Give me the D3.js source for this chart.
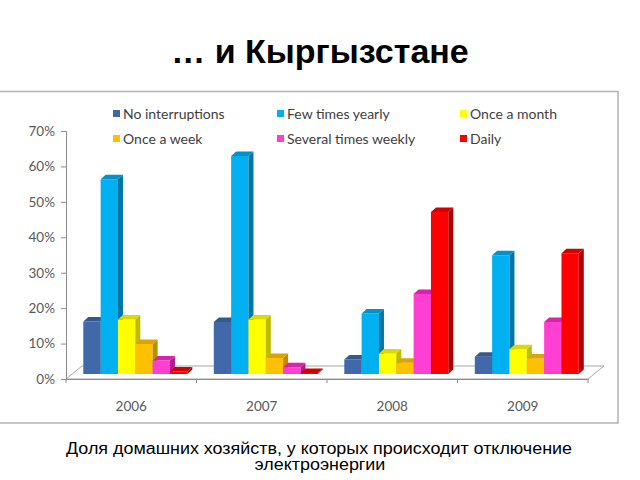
<!DOCTYPE html>
<html>
<head>
<meta charset="utf-8">
<script src="https://cdn.jsdelivr.net/npm/d3@7"></script>
<style>
  html, body { margin: 0; padding: 0; background: #fff; }
  svg { display: block; }
</style>
</head>
<body>
<svg id="chart" width="640" height="480"></svg>
<script>
// ---- data ----
const years = ["2006", "2007", "2008", "2009"];
const seriesNames = ["No interruptions", "Few times yearly", "Once a month",
                     "Once a week", "Several times weekly", "Daily"];
const noInterruptions   = [0.148, 0.147, 0.041, 0.049];
const fewTimesYearly    = [0.550, 0.615, 0.171, 0.335];
const onceAMonth        = [0.154, 0.154, 0.058, 0.070];
const onceAWeek         = [0.085, 0.045, 0.032, 0.044];
const severalTimesWeekly= [0.038, 0.019, 0.226, 0.147];
const daily             = [0.007, 0.003, 0.457, 0.341];
const yTicks = [0, 0.1, 0.2, 0.3, 0.4, 0.5, 0.6, 0.7];

const seriesValues = [noInterruptions, fewTimesYearly, onceAMonth,
                      onceAWeek, severalTimesWeekly, daily];
const colors = [
  {front: "#4169a9", top: "#35598f", side: "#2a4878"},
  {front: "#00b0f0", top: "#0092c9", side: "#0076a6"},
  {front: "#ffff00", top: "#dada00", side: "#bcbc00"},
  {front: "#ffc000", top: "#dba400", side: "#be8c00"},
  {front: "#ff3fd2", top: "#d922ad", side: "#b51a90"},
  {front: "#ff0000", top: "#d40000", side: "#b00000"}
];

const svg = d3.select("#chart");

// ---- title ----
svg.append("text")
  .attr("x", 320).attr("y", 63)
  .attr("text-anchor", "middle")
  .attr("font-family", "'Liberation Sans', Arial, sans-serif")
  .attr("font-weight", "bold")
  .attr("font-size", 34)
  .attr("fill", "#000")
  .text("… и Кыргызстане");

// ---- frame ----
const frame = svg.append("g").attr("fill", "none").attr("stroke", "#b3b3b3").attr("stroke-width", 1.5);
frame.append("path").attr("d", "M0,91.5 H618 V423 H0");

// ---- scales ----
const y = d3.scaleLinear().domain([0, 0.7]).range([379, 131]);
const x0 = d3.scaleBand().domain(years).range([66, 588]);
const x1 = d3.scaleBand().domain(seriesNames).range([0, 104]);
const floorDx = 16, floorDy = -13;   // floor depth
const barOff = {x: 17.3, y: -5};     // bar front position inside floor
const bd = {x: 5, y: -4.5};          // bar depth

const plot = svg.append("g");

// floor
const fx0 = x0.range()[0], fx1 = x0.range()[1], fy = y(0);
plot.append("path")
  .attr("d", `M${fx0},${fy} L${fx1},${fy} L${fx1 + floorDx},${fy + floorDy} L${fx0 + floorDx},${fy + floorDy} Z`)
  .attr("fill", "#fff").attr("stroke", "#a6a6a6").attr("stroke-width", 1);

// y axis
const yAxis = d3.axisLeft(y).tickValues(yTicks).tickFormat(d3.format(".0%")).tickSize(5).tickPadding(6);
const gy = plot.append("g").attr("transform", `translate(${fx0},0)`).call(yAxis);
gy.select(".domain").attr("stroke", "#8c8c8c");
gy.selectAll(".tick line").attr("stroke", "#8c8c8c");
gy.selectAll(".tick text")
  .attr("font-family", "Lato, 'Open Sans', sans-serif")
  .attr("font-size", 13.5).attr("fill", "#595959");

// x axis
const xAxis = d3.axisBottom(x0).tickSize(0).tickPadding(22);
const gx = plot.append("g").attr("transform", `translate(0,${fy})`).call(xAxis);
gx.select(".domain").attr("stroke", "#8c8c8c");
gx.selectAll(".tick text")
  .attr("font-family", "Lato, 'Open Sans', sans-serif")
  .attr("font-size", 13.5).attr("fill", "#595959");
// category separator ticks
const sepTicks = years.map(yr => x0(yr)).concat([fx1]);
gx.selectAll(".sep").data(sepTicks).enter().append("line")
  .attr("x1", d => d).attr("x2", d => d).attr("y1", 0).attr("y2", 4)
  .attr("stroke", "#8c8c8c");

// bars
const barsData = [];
years.forEach((yr, yi) => {
  seriesNames.forEach((s, si) => {
    barsData.push({year: yr, series: s, si: si, value: seriesValues[si][yi]});
  });
});
const w = x1.bandwidth();
const bars = plot.selectAll(".bar").data(barsData).enter().append("g").attr("class", "bar");
bars.each(function(d) {
  const g = d3.select(this);
  const xl = x0(d.year) + barOff.x + x1(d.series);
  const xr = xl + w;
  const yb = y(0) + barOff.y;
  const yt = y(d.value) + barOff.y;
  const c = colors[d.si];
  g.append("path").attr("d", `M${xl},${yb} L${xr},${yb} L${xr},${yt} L${xl},${yt} Z`).attr("fill", c.front);
  g.append("path").attr("d", `M${xr},${yb} L${xr + bd.x},${yb + bd.y} L${xr + bd.x},${yt + bd.y} L${xr},${yt} Z`).attr("fill", c.side);
  g.append("path").attr("d", `M${xl},${yt} L${xr},${yt} L${xr + bd.x},${yt + bd.y} L${xl + bd.x},${yt + bd.y} Z`).attr("fill", c.top);
});

// legend
const legCols = [113, 277, 460];
const legRows = [114, 139];
const legend = svg.append("g");
seriesNames.forEach((s, i) => {
  const cx = legCols[i % 3], cy = legRows[Math.floor(i / 3)];
  legend.append("rect").attr("x", cx).attr("y", cy - 4).attr("width", 7).attr("height", 7).attr("fill", colors[i].front);
  legend.append("text").attr("x", cx + 10).attr("y", cy + 4.5)
    .attr("font-family", "Lato, 'Open Sans', sans-serif")
    .attr("font-size", 14).attr("fill", "#404040").text(s);
});

// caption
const cap1 = svg.append("text")
  .attr("x", 319).attr("y", 454).attr("text-anchor", "middle")
  .attr("font-family", "'Liberation Sans', Arial, sans-serif")
  .attr("font-size", 16).attr("fill", "#000")
  .text("Доля домашних хозяйств, у которых происходит отключение");
const cap2 = svg.append("text")
  .attr("x", 320).attr("y", 470).attr("text-anchor", "middle")
  .attr("font-family", "'Liberation Sans', Arial, sans-serif")
  .attr("font-size", 16).attr("fill", "#000")
  .text("электроэнергии");
// stretch caption horizontally to the reference line length
const target = 506;
const len1 = cap1.node().getComputedTextLength();
const len2 = cap2.node().getComputedTextLength();
const k = target / len1;
cap1.attr("textLength", target).attr("lengthAdjust", "spacingAndGlyphs");
cap2.attr("textLength", len2 * k).attr("lengthAdjust", "spacingAndGlyphs");
</script>
</body>
</html>
